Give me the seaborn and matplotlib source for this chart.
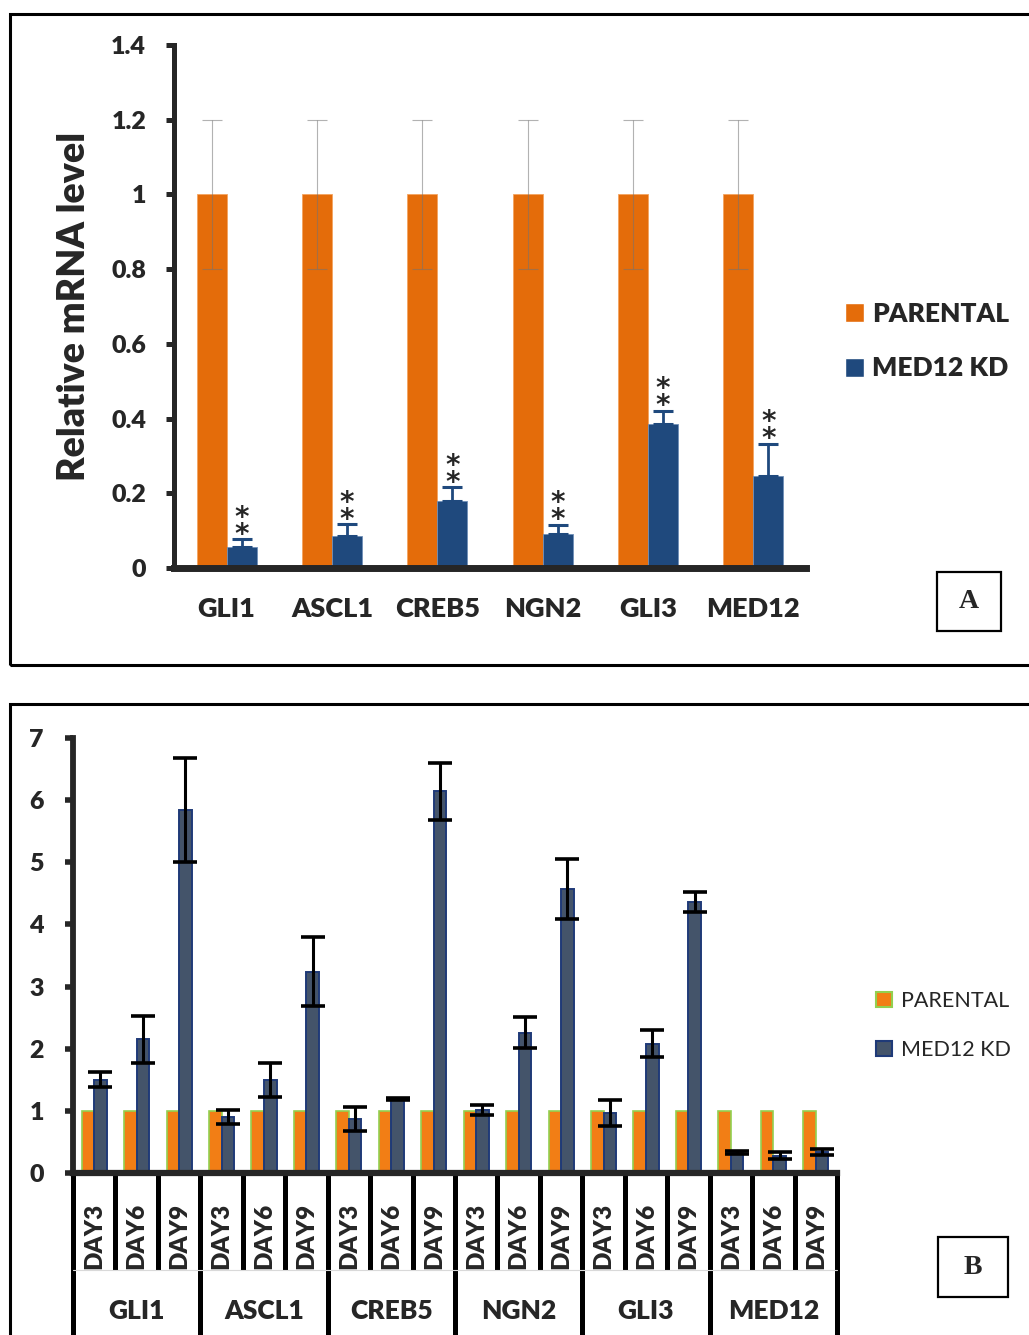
import numpy as np
import pandas as pd
import matplotlib
matplotlib.use("Agg")
import matplotlib.pyplot as plt
from matplotlib.patches import Rectangle
from matplotlib.lines import Line2D
from matplotlib.transforms import blended_transform_factory
import seaborn as sns

# ---------------- data ----------------
genes = ["GLI1", "ASCL1", "CREB5", "NGN2", "GLI3", "MED12"]
groups = ["PARENTAL", "MED12 KD"]
days = ["DAY3", "DAY6", "DAY9"]

# Panel A: relative mRNA level after MED12 knockdown
a_parental = [1.0, 1.0, 1.0, 1.0, 1.0, 1.0]
a_parental_err = [0.2, 0.2, 0.2, 0.2, 0.2, 0.2]
a_kd = [0.055, 0.085, 0.18, 0.09, 0.385, 0.245]
a_kd_err = [0.022, 0.032, 0.037, 0.026, 0.036, 0.088]
a_marks = ["**", "**", "**", "**", "**", "**"]

# Panel B: time course (DAY3 / DAY6 / DAY9 for each gene)
b_parental = [1.0] * 18
b_kd = [1.50, 2.15, 5.84,
        0.90, 1.50, 3.24,
        0.87, 1.19, 6.14,
        1.01, 2.26, 4.57,
        0.96, 2.08, 4.36,
        0.33, 0.28, 0.34]
b_kd_err = [0.12, 0.38, 0.84,
            0.11, 0.27, 0.55,
            0.19, 0.02, 0.46,
            0.08, 0.25, 0.48,
            0.21, 0.22, 0.165,
            0.02, 0.05, 0.05]

# ---------------- style ----------------
sns.set_style("ticks")
plt.rcParams["font.family"] = ["Lato", "DejaVu Sans"]
BOLD = "heavy"

A_ORANGE, A_BLUE = "#E46C0A", "#1F497D"
B_ORANGE, B_BLUE = "#F27E15", "#44546A"
B_ORANGE_EDGE, B_BLUE_EDGE = "#92D050", "#1F3A78"

W, H = 1029, 1335
fig = plt.figure(figsize=(W / 100, H / 100), dpi=100)
fig.patch.set_facecolor("white")


def fx(px):
    return px / W


def fy(py):
    return 1 - py / H


# panel frames
fig.add_artist(Rectangle((fx(10), fy(665)), fx(1040) - fx(10), fy(14) - fy(665),
                         transform=fig.transFigure, fill=False, lw=2.2, ec="black"))
fig.add_artist(Rectangle((fx(10), fy(1345)), fx(1040) - fx(10), fy(704) - fy(1345),
                         transform=fig.transFigure, fill=False, lw=2.2, ec="black"))

# ---------------- panel A ----------------
axA = fig.add_axes([fx(174), fy(568), (806 - 174) / W, (568 - 45) / H])
dfA = pd.DataFrame({
    "gene": genes * 2,
    "group": [groups[0]] * len(genes) + [groups[1]] * len(genes),
    "value": a_parental + a_kd,
})
sns.barplot(data=dfA, x="gene", y="value", hue="group", order=genes, hue_order=groups,
            palette=[A_ORANGE, A_BLUE], saturation=1, width=0.57, gap=0,
            errorbar=None, ax=axA)

xs_par = [p.get_x() + p.get_width() / 2 for p in axA.containers[0]]
xs_kd = [p.get_x() + p.get_width() / 2 for p in axA.containers[1]]
for p in axA.containers[0]:
    p.set_edgecolor("#F4A460"); p.set_linewidth(0.6)
for p in axA.containers[1]:
    p.set_edgecolor("#6F8FB8"); p.set_linewidth(0.6)

axA.errorbar(xs_par, a_parental, yerr=a_parental_err, fmt="none",
             ecolor=(0.45, 0.45, 0.45, 0.55), elinewidth=0.8, capsize=7, capthick=0.8)
axA.errorbar(xs_kd, a_kd, yerr=[np.zeros(len(a_kd)), a_kd_err], fmt="none",
             ecolor=A_BLUE, elinewidth=2.0, capsize=7.5, capthick=2.2)
for x, v, e, m in zip(xs_kd, a_kd, a_kd_err, a_marks):
    axA.annotate("\n".join(m), xy=(x, v + e), xytext=(0, -7), textcoords="offset points",
                 ha="center", va="bottom", fontsize=20, linespacing=0.5,
                 family="DejaVu Sans", fontweight="bold")

axA.set_xlim(-0.5, len(genes) - 0.5)
axA.set_ylim(0, 1.4)
axA.set_yticks(np.arange(0, 1.41, 0.2))
axA.set_yticklabels(["0", "0.2", "0.4", "0.6", "0.8", "1", "1.2", "1.4"])
for s in ["top", "right"]:
    axA.spines[s].set_visible(False)
axA.spines["left"].set_linewidth(3.6)
axA.spines["bottom"].set_linewidth(5)
axA.tick_params(axis="y", length=6, width=3.6, pad=14, labelsize=18, direction="out")
axA.tick_params(axis="x", length=0, pad=21, labelsize=19.5)
for t in axA.get_xticklabels() + axA.get_yticklabels():
    t.set_fontweight(BOLD)
axA.set_xlabel("")
axA.set_ylabel("Relative mRNA level", fontsize=27, fontweight=BOLD, va="center")
axA.yaxis.set_label_coords((74 - 174) / 632, 0.5)

sns.move_legend(axA, "upper left", bbox_to_anchor=(fx(845), fy(302)),
                bbox_transform=fig.transFigure, frameon=False, title=None,
                prop={"weight": BOLD, "size": 19}, handlelength=0.72, handleheight=0.72,
                handletextpad=0.3, labelspacing=1.15, borderpad=0, borderaxespad=0)

fig.add_artist(Rectangle((fx(937), fy(631)), fx(1001) - fx(937), fy(572) - fy(631),
                         transform=fig.transFigure, fill=False, lw=1.6, ec="black"))
fig.text(fx(969), fy(602), "A", ha="center", va="center", fontsize=20,
         fontweight="bold", family="Liberation Serif")

# ---------------- panel B ----------------
axB = fig.add_axes([fx(73), fy(1173), (837 - 73) / W, (1173 - 738) / H])
slots = [f"{g} {d}" for g in genes for d in days]
dfB = pd.DataFrame({
    "slot": slots * 2,
    "group": [groups[0]] * len(slots) + [groups[1]] * len(slots),
    "value": b_parental + b_kd,
})
sns.barplot(data=dfB, x="slot", y="value", hue="group", order=slots, hue_order=groups,
            palette=[B_ORANGE, B_BLUE], saturation=1, width=0.59, gap=0,
            errorbar=None, ax=axB)
for p in axB.containers[0]:
    p.set_edgecolor(B_ORANGE_EDGE); p.set_linewidth(1.2)
for p in axB.containers[1]:
    p.set_edgecolor(B_BLUE_EDGE); p.set_linewidth(1.4)
xsB = [p.get_x() + p.get_width() / 2 for p in axB.containers[1]]
axB.errorbar(xsB, b_kd, yerr=b_kd_err, fmt="none", ecolor="black",
             elinewidth=2.2, capsize=8.5, capthick=2.6, zorder=5)

axB.set_xlim(-0.5, len(slots) - 0.5)
axB.set_ylim(0, 7)
axB.set_yticks(range(0, 8))
for s in ["top", "right"]:
    axB.spines[s].set_visible(False)
axB.spines["left"].set_linewidth(4.2)
axB.spines["bottom"].set_linewidth(4.5)
axB.tick_params(axis="y", length=6, width=4, pad=15, labelsize=18, direction="out")
axB.tick_params(axis="x", length=0, labelbottom=False)
for t in axB.get_yticklabels():
    t.set_fontweight(BOLD)
axB.set_xlabel("")
axB.set_ylabel("")

# hierarchical category axis: day slots and gene groups
trB = blended_transform_factory(axB.transData, axB.transAxes)
for i in range(len(slots) + 1):
    x = i - 0.5
    y_end = -0.42 if i % 3 == 0 else -0.222
    axB.add_line(Line2D([x, x], [0, y_end], transform=trB, color="black",
                        lw=3.6, clip_on=False, solid_capstyle="butt"))
axB.add_line(Line2D([-0.5, len(slots) - 0.5], [-0.222, -0.222], transform=trB,
                    color="#D9D9D9", lw=0.8, clip_on=False))
for i, s in enumerate(slots):
    axB.text(i, -0.145, s.split()[1], transform=trB, rotation=90, ha="center",
             va="center", fontsize=17.5, fontweight=BOLD)
for g, name in enumerate(genes):
    axB.text(3 * g + 1, -0.318, name, transform=trB, ha="center", va="center",
             fontsize=19, fontweight=BOLD)

sns.move_legend(axB, "upper left", bbox_to_anchor=(fx(876), fy(991)),
                bbox_transform=fig.transFigure, frameon=False, title=None,
                prop={"size": 15.5}, handlelength=0.75, handleheight=0.75,
                handletextpad=0.4, labelspacing=1.35, borderpad=0, borderaxespad=0)
legB = axB.get_legend()
for h, ec in zip(legB.legend_handles, [B_ORANGE_EDGE, B_BLUE_EDGE]):
    h.set_edgecolor(ec)
    h.set_linewidth(1.5)

fig.add_artist(Rectangle((fx(938), fy(1297)), fx(1008) - fx(938), fy(1237) - fy(1297),
                         transform=fig.transFigure, fill=False, lw=1.6, ec="black"))
fig.text(fx(973), fy(1268), "B", ha="center", va="center", fontsize=20,
         fontweight="bold", family="Liberation Serif")

fig.savefig("out.png", dpi=100, facecolor="white")
